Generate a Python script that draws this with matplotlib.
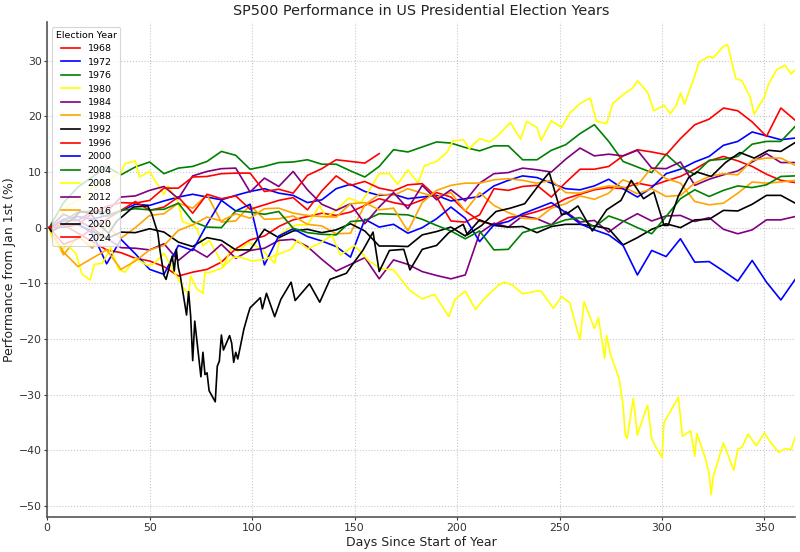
import numpy as np
import matplotlib
matplotlib.use("Agg")
import matplotlib.pyplot as plt

# ---------------------------------------------------------------
# data: % change vs first trading day, x = days since Jan 1
# ---------------------------------------------------------------
years = [1968, 1972, 1976, 1980, 1984, 1988, 1992, 1996,
         2000, 2004, 2008, 2012, 2016, 2020, 2024]
colors = ["red", "blue", "green", "yellow", "purple", "orange", "black"]

days_weekly = list(range(1, 366, 7))

perf_1968 = [0.0, 0.5, -1.0, -2.5, -4.0, -4.5, -5.5, -6.0, -7.0, -8.7,
             -8.0, -7.5, -6.2, -3.8, -2.2, -1.5, 0.2, 1.4, 2.0, 2.6,
             2.2, 2.8, 4.0, 5.2, 4.5, 4.0, 5.0, 6.3, 5.5, 3.0,
             1.2, 0.5, 1.8, 2.2, 2.9, 3.8, 5.2, 6.0, 6.8, 7.2,
             7.0, 8.0, 7.5, 8.4, 9.2, 10.5, 12.0, 12.8, 12.0, 11.0,
             9.6, 8.5, 8.1]
perf_1972 = [0.0, 1.5, 2.0, 1.5, 2.2, 3.0, 4.2, 4.0, 4.8, 5.5,
             6.0, 5.5, 5.0, 5.8, 6.5, 7.0, 6.2, 5.8, 4.5, 5.0,
             7.0, 7.8, 6.5, 5.8, 6.0, 5.2, 5.5, 5.8, 4.8, 5.2,
             5.6, 7.5, 8.5, 9.3, 9.0, 8.0, 7.0, 6.8, 7.5, 8.7,
             7.0, 5.5, 7.2, 9.7, 10.5, 11.8, 12.8, 14.8, 15.5, 17.2,
             16.5, 15.8, 16.1]
perf_1976 = [0.0, 4.5, 7.3, 9.1, 11.0, 9.5, 10.9, 11.8, 9.7, 10.7,
             11.0, 11.9, 13.7, 13.0, 10.5, 11.0, 11.7, 11.8, 12.2, 11.4,
             11.4, 10.2, 9.1, 11.0, 14.0, 13.6, 14.5, 15.4, 15.2, 14.4,
             13.8, 14.7, 14.7, 12.2, 12.2, 13.9, 14.9, 16.9, 18.5, 15.5,
             11.9, 10.9, 9.9, 13.2, 10.9, 9.6, 12.1, 12.3, 12.8, 15.0,
             15.5, 15.5, 18.2]
days_1980 = [1, 3, 8, 10, 15, 17, 22, 24, 29, 31,
             36, 38, 43, 45, 50, 52, 57, 59, 64, 66,
             71, 73, 76, 79, 83, 86, 90, 93, 98, 101,
             105, 111, 114, 119, 122, 127, 133, 136, 141, 147,
             153, 157, 162, 167, 171, 176, 181, 184, 190, 195,
             198, 203, 206, 211, 216, 220, 226, 231, 234, 239,
             241, 246, 251, 255, 260, 265, 268, 273, 276, 281,
             286, 288, 293, 296, 301, 304, 307, 309, 311, 316,
             318, 323, 325, 330, 332, 336, 339, 343, 345, 350,
             352, 356, 360, 363, 365]
perf_1980 = [0.0, 0.4, 3.0, 3.9, 5.0, 5.0, 7.3, 7.4, 7.9, 8.9,
             9.9, 11.5, 12.0, 9.1, 10.1, 8.8, 6.0, 7.5, 4.5, 1.1,
             0.4, -0.1, -3.3, -2.3, -4.8, -7.1, -3.5, -4.3, -2.7, -3.1,
             -4.0, -6.4, -1.1, 0.1, 0.5, 0.5, 4.0, 1.8, 3.1, 5.3,
             4.5, 6.6, 9.7, 9.7, 7.8, 10.4, 8.0, 11.1, 11.9, 13.5,
             15.6, 15.8, 14.2, 16.0, 15.4, 16.6, 18.9, 15.9, 19.1, 18.0,
             15.7, 19.2, 18.0, 20.6, 22.3, 23.3, 19.1, 18.7, 22.3, 23.9,
             25.2, 26.4, 24.3, 21.0, 22.0, 20.5, 22.0, 24.2, 22.2, 27.3,
             29.7, 30.8, 30.5, 32.6, 32.9, 26.8, 26.4, 23.5, 20.4, 23.5,
             25.8, 28.4, 29.2, 27.6, 28.4]
perf_1984 = [0.0, 2.4, 1.3, -0.1, -1.9, -3.6, -3.7, -4.0, -2.9, -5.9,
             -3.8, -5.3, -3.0, -5.5, -4.1, -3.7, -2.3, -2.1, -3.4, -5.7,
             -7.8, -6.6, -5.4, -9.2, -5.8, -6.6, -7.9, -8.6, -9.2, -8.5,
             -1.0, 0.8, 0.1, 2.1, 1.6, 0.5, 2.9, 1.0, 1.3, -0.8,
             1.1, 2.5, 1.2, 2.1, 2.2, 1.1, 1.8, -0.3, -1.1, -0.4,
             1.4, 1.4, 2.0]
perf_1988 = [0.0, -4.9, -1.5, -3.7, 0.4, -1.9, 0.0, 2.2, 2.5, 4.4,
             3.5, 5.9, 1.0, 1.2, 4.0, 1.5, 1.6, 2.1, 0.6, 0.3,
             -1.1, -1.0, 4.1, 6.0, 5.8, 7.0, 6.2, 5.5, 6.3, 3.0,
             6.3, 4.0, 2.7, 1.7, 1.5, 3.5, 4.3, 5.7, 5.1, 6.2,
             8.6, 7.6, 10.8, 8.8, 8.0, 4.7, 4.1, 4.4, 6.2, 8.2,
             8.0, 8.2, 8.5]
perf_1992 = [0.0, 0.1, 0.5, -0.6, -2.0, -0.8, -0.9, -0.2, -0.8, -2.6,
             -3.4, -1.8, -2.3, -4.0, -4.0, -0.3, -1.8, -0.6, -0.3, -0.9,
             -0.4, 0.7, -0.6, -3.3, -3.3, -3.4, -1.3, -0.7, 0.1, -1.5,
             1.4, 0.4, 0.1, 0.2, -0.9, 0.2, 0.6, 0.6, 0.3, -0.2,
             -3.1, -1.8, -0.3, 0.7, 0.0, 1.4, 1.5, 3.1, 3.0, 4.2,
             5.8, 5.8, 4.4]
perf_1996 = [0.0, -3.0, -2.0, -0.2, 1.5, 3.1, 4.7, 3.1, 3.7, 5.5,
             2.6, 6.0, 5.2, 5.7, 3.3, 4.1, 4.9, 5.4, 3.2, 6.6,
             9.3, 7.6, 8.3, 7.1, 6.6, 7.7, 7.9, 5.5, 1.2, 1.0,
             2.3, 7.0, 6.7, 7.4, 7.6, 5.5, 8.1, 10.5, 10.5, 11.0,
             12.9, 14.0, 13.6, 13.1, 16.0, 18.5, 19.5, 21.5, 21.0, 19.0,
             16.4, 21.5, 19.3]
perf_2000 = [0.0, 0.1, 0.7, -1.0, -6.5, -2.1, -4.7, -7.5, -8.4, -3.2,
             -4.1, 0.6, 4.9, 3.0, 4.2, -6.7, -1.5, -0.2, -1.6, -2.4,
             -3.4, -5.3, 1.5, 0.1, 0.6, -1.0, 0.0, 1.6, 3.7, 1.7,
             -2.5, 0.5, 1.1, 2.5, 3.5, 4.5, 2.7, 0.7, -0.4, -1.3,
             -3.2, -8.5, -4.1, -5.2, -2.0, -6.2, -6.1, -7.8, -9.6, -5.9,
             -9.8, -13.0, -9.3]
perf_2004 = [0.0, 1.2, 2.8, 3.0, 2.0, 3.1, 3.4, 3.2, 3.3, 4.4,
             1.1, 0.1, 0.0, 3.0, 2.8, 2.4, 2.9, -0.1, -0.9, -1.2,
             -1.3, 1.1, 1.3, 2.5, 2.4, 2.3, 1.5, 0.4, -0.6, -2.0,
             -0.6, -4.0, -3.9, -0.9, -0.1, 0.5, 1.4, 1.8, 0.1, 2.1,
             1.2, 0.0, -1.1, 2.0, 5.2, 6.8, 5.6, 6.7, 7.5, 7.2,
             7.7, 9.2, 9.3]
days_2008 = [1, 3, 7, 10, 14, 17, 21, 23, 27, 31,
             35, 38, 43, 49, 52, 57, 62, 66, 69, 70,
             73, 76, 77, 79, 85, 91, 94, 100, 106, 112,
             119, 122, 127, 132, 139, 143, 150, 157, 163, 169,
             177, 183, 189, 196, 199, 204, 209, 213, 220, 223,
             227, 232, 239, 241, 247, 251, 255, 258, 260, 262,
             267, 269, 272, 273, 275, 279, 281, 282, 283, 286,
             288, 290, 293, 295, 297, 300, 301, 304, 308, 310,
             314, 316, 317, 321, 323, 324, 325, 328, 330, 335,
             337, 339, 342, 346, 350, 353, 357, 360, 363, 365]
perf_2008 = [0.0, -2.5, -3.9, -3.2, -4.6, -8.4, -9.4, -6.6, -6.4, -3.6,
             -7.6, -8.0, -5.5, -6.8, -6.5, -4.6, -8.0, -10.6, -12.0, -8.7,
             -11.0, -11.8, -8.0, -8.1, -7.3, -5.3, -5.3, -6.0, -5.7, -4.9,
             -3.9, -2.3, -3.8, -3.0, -1.4, -4.9, -3.2, -6.0, -7.4, -7.6,
             -11.3, -12.8, -12.0, -16.0, -12.9, -11.4, -14.7, -12.9, -10.4, -9.8,
             -10.3, -11.9, -11.4, -11.4, -14.5, -12.4, -13.5, -17.6, -20.1, -13.3,
             -18.1, -16.2, -23.5, -19.4, -23.0, -27.0, -31.9, -37.1, -37.9, -30.7,
             -37.3, -35.0, -31.9, -38.0, -39.4, -41.3, -35.0, -33.1, -30.5, -37.5,
             -36.5, -41.1, -37.0, -41.2, -44.3, -48.0, -44.7, -41.1, -38.7, -43.6,
             -39.8, -39.5, -37.1, -39.2, -36.9, -38.6, -40.4, -39.7, -39.9, -37.6]
perf_2012 = [0.0, 1.2, 1.3, 2.9, 2.8, 5.5, 5.7, 6.7, 7.4, 5.2,
             9.3, 10.1, 10.6, 10.7, 6.4, 8.9, 7.4, 10.1, 6.8, 4.2,
             3.1, 4.3, 0.7, 3.7, 6.3, 3.4, 7.6, 5.0, 6.8, 4.8,
             8.0, 9.7, 9.9, 10.7, 10.4, 10.0, 12.3, 14.3, 12.9, 13.2,
             12.9, 13.9, 10.7, 10.6, 11.8, 7.6, 8.7, 9.5, 10.2, 11.8,
             13.3, 11.7, 11.7]
perf_2016 = [0.0, -4.4, -7.0, -5.5, -4.0, -7.5, -6.0, -4.0, -3.2, -0.5,
             0.5, 1.9, 1.2, 2.5, 1.7, 3.4, 3.5, 2.6, 2.2, 2.0,
             1.9, 4.3, 4.5, 3.2, 3.5, -0.6, 4.5, 6.7, 7.6, 8.0,
             8.0, 8.6, 8.8, 8.5, 8.0, 8.5, 6.3, 6.2, 7.0, 7.5,
             7.3, 6.1, 7.0, 5.6, 5.8, 8.0, 9.2, 9.7, 9.5, 12.1,
             12.5, 12.5, 11.2]
days_2020 = [1, 2, 7, 13, 16, 21, 26, 30, 34, 37,
             42, 49, 51, 54, 55, 57, 58, 61, 62, 63,
             64, 65, 68, 69, 70, 71, 72, 75, 76, 77,
             78, 79, 82, 83, 84, 85, 86, 89, 90, 91,
             92, 93, 96, 98, 99, 104, 105, 107, 111, 114,
             119, 121, 128, 133, 138, 146, 149, 154, 159, 162,
             167, 174, 177, 183, 190, 196, 203, 205, 212, 219,
             226, 233, 240, 245, 251, 254, 259, 266, 273, 280,
             285, 291, 296, 301, 303, 308, 313, 317, 324, 331,
             338, 345, 352, 358, 365]
perf_2020 = [0.0, -0.7, 0.3, 1.7, 2.9, 2.6, 0.3, -1.0, 1.2, 2.1,
             3.7, 3.9, 2.5, -1.0, -4.0, -8.6, -9.3, -5.1, -7.8, -3.9,
             -7.2, -8.8, -15.7, -11.5, -15.9, -23.9, -16.8, -26.8, -22.4, -26.4,
             -26.1, -29.3, -31.3, -24.9, -24.0, -19.3, -22.0, -19.4, -20.7, -24.2,
             -22.4, -23.6, -18.2, -15.6, -14.4, -12.6, -14.6, -11.8, -16.0, -12.9,
             -9.8, -13.1, -10.1, -13.4, -9.3, -8.2, -6.6, -4.1, -0.8, -7.9,
             -4.1, -3.9, -7.6, -3.9, -3.2, -0.9, 0.6, -1.3, 0.4, 2.9,
             3.5, 4.3, 7.7, 9.9, 2.3, 2.6, 3.9, -0.6, 3.2, 4.9,
             8.5, 5.2, 6.4, 0.4, 0.4, 5.7, 9.0, 10.0, 9.2, 11.7,
             13.5, 12.5, 13.9, 13.7, 15.3]
# 2024 is only partially available
perf_2024 = [0.0, 0.3, 0.5, 2.6, 3.8, 4.5, 4.4, 4.9, 7.1, 7.1,
             9.1, 9.2, 9.7, 9.8, 9.8, 6.5, 6.9, 6.2, 9.4, 10.6,
             12.2, 11.9, 11.6, 13.3]

series = {
    1968: (days_weekly, perf_1968),
    1972: (days_weekly, perf_1972),
    1976: (days_weekly, perf_1976),
    1980: (days_1980, perf_1980),
    1984: (days_weekly, perf_1984),
    1988: (days_weekly, perf_1988),
    1992: (days_weekly, perf_1992),
    1996: (days_weekly, perf_1996),
    2000: (days_weekly, perf_2000),
    2004: (days_weekly, perf_2004),
    2008: (days_2008, perf_2008),
    2012: (days_weekly, perf_2012),
    2016: (days_weekly, perf_2016),
    2020: (days_2020, perf_2020),
    2024: (days_weekly[:len(perf_2024)], perf_2024),
}

#################
# Plotting Part #
#################

fig, ax = plt.subplots(figsize=(8, 5.52), dpi=100)

for i, year in enumerate(years):
    x, y = series[year]
    ax.plot(x, y, color=colors[i % len(colors)], linewidth=1.2, label=str(year))

ax.set_xlim(0, 365)
ax.margins(x=0)
ax.set_xticks(np.arange(0, 351, 50))
ax.set_yticks(np.arange(-50, 31, 10))

ax.grid(True, linestyle=":", color="#c8c8c8", linewidth=0.8)
ax.set_axisbelow(True)
for side in ["top", "right"]:
    ax.spines[side].set_visible(False)
for side in ["left", "bottom"]:
    ax.spines[side].set_color("#555555")
    ax.spines[side].set_linewidth(1.2)
ax.tick_params(axis="both", labelsize=7.8, colors="#333333", length=2, width=0.8, pad=2)

ax.set_title("SP500 Performance in US Presidential Election Years", fontsize=10.4, color="#222222", pad=5)
ax.set_xlabel("Days Since Start of Year", fontsize=9, color="#222222", labelpad=2)
ax.set_ylabel("Performance from Jan 1st (%)", fontsize=9, color="#222222", labelpad=2)

leg = ax.legend(title="Election Year", loc="upper left", fontsize=6.8, title_fontsize=6.8,
                frameon=True, framealpha=0.8, edgecolor="#cccccc", labelspacing=0.48,
                borderpad=0.4, handlelength=2.0)
leg.get_frame().set_linewidth(0.8)

fig.subplots_adjust(left=0.059, right=0.994, top=0.960, bottom=0.063)
fig.savefig("out.png", dpi=100)
plt.close(fig)
